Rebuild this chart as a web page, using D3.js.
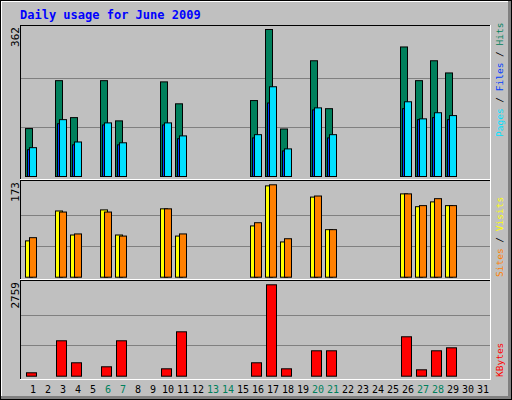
<!DOCTYPE html>
<html><head><meta charset="utf-8">
<script src="https://cdn.jsdelivr.net/npm/d3@7"></script>
<style>body{margin:0;background:#fff}svg{display:block}</style>
</head><body><div id="chart"></div>
<script>
var days = d3.range(1, 32);
var weekend = [6, 7, 13, 14, 20, 21, 27, 28];
// day -> value, days with no traffic are 0
var hits   = {1:118,3:236,4:145,6:236,7:137,10:233,11:179,16:187,17:362,18:117,20:285,21:167,26:319,27:236,28:285,29:255};
var files  = {1:71,3:140,4:85,6:132,7:83,10:132,11:100,16:103,17:221,18:68,20:169,21:103,26:184,27:142,28:157,29:150};
var pages  = {1:66,3:130,4:78,6:127,7:78,10:127,11:93,16:95,17:181,18:63,20:164,21:95,26:167,27:140,28:145,29:140};
var visits = {1:68,3:124,4:79,6:126,7:79,10:128,11:77,16:96,17:171,18:66,20:150,21:89,26:156,27:132,28:141,29:134};
var sites  = {1:74,3:122,4:81,6:122,7:77,10:128,11:81,16:102,17:173,18:72,20:152,21:89,26:156,27:134,28:147,29:134};
var kbytes = {1:103,3:1069,4:405,6:284,7:1069,10:223,11:1340,16:405,17:2759,18:223,20:767,21:767,26:1190,27:193,28:767,29:857};

var W = 512, H = 400;
var svg = d3.select("#chart").append("svg").attr("width", W).attr("height", H);

// frame
svg.append("rect").attr("x", 0).attr("y", 0).attr("width", W).attr("height", H).attr("fill", "#000");
svg.append("rect").attr("x", 1).attr("y", 1).attr("width", W - 2).attr("height", H - 2).attr("fill", "#808080");
svg.append("rect").attr("x", 1).attr("y", 1).attr("width", W - 5).attr("height", H - 5).attr("fill", "#fff");
svg.append("rect").attr("x", 2).attr("y", 2).attr("width", W - 6).attr("height", H - 6).attr("fill", "#c0c0c0");

svg.append("text").attr("x", 20).attr("y", 19)
    .attr("font-family", "DejaVu Sans Mono").attr("font-weight", "bold").attr("font-size", 12)
    .attr("fill", "#0000ff").text("Daily usage for June 2009");

var x = d3.scaleLinear().domain([1, 32]).range([25, 25 + 31 * 15]);

var panels = [
    {top: 25, bottom: 179, base: 176, peak: 29, max: 362, labelEnd: 137,
     label: [["Pages", "#00e0ff"], [" / ", "#000"], ["Files", "#0040ff"], [" / ", "#000"], ["Hits", "#00805c"]],
     series: [
        {data: hits, color: "#00805c", dx: 0, w: 7},
        {data: pages, color: "#0040ff", dx: 2, w: 3},
        {data: files, color: "#00e0ff", dx: 4, w: 7}]},
    {top: 180, bottom: 279, base: 276.7, peak: 184.3, max: 173, labelEnd: 277,
     label: [["Sites", "#ff8000"], [" / ", "#000"], ["Visits", "#ffff00"]],
     series: [
        {data: visits, color: "#ffff00", dx: 0, w: 7},
        {data: sites, color: "#ff8000", dx: 4, w: 7}]},
    {top: 280, bottom: 379, base: 375.7, peak: 284.3, max: 2759, labelEnd: 377,
     label: [["KBytes", "#ff0000"]],
     series: [
        {data: kbytes, color: "#ff0000", dx: 1, w: 10}]}
];

panels.forEach(function(p) {
    var y = d3.scaleLinear().domain([0, p.max]).range([p.base, p.peak]);
    // border: black top/left, white bottom/right
    svg.append("line").attr("x1", 20.5).attr("x2", 491).attr("y1", p.top + 0.5).attr("y2", p.top + 0.5).attr("stroke", "#000");
    svg.append("line").attr("x1", 20.5).attr("x2", 20.5).attr("y1", p.top).attr("y2", p.bottom + 1).attr("stroke", "#000");
    svg.append("line").attr("x1", 20).attr("x2", 491).attr("y1", p.bottom + 0.5).attr("y2", p.bottom + 0.5).attr("stroke", "#fff");
    svg.append("line").attr("x1", 490.5).attr("x2", 490.5).attr("y1", p.top).attr("y2", p.bottom + 1).attr("stroke", "#fff");

    [1 / 3, 2 / 3].forEach(function(f) {
        var gy = Math.round(y(p.max * f)) + 0.5;
        svg.append("line").attr("x1", 21).attr("x2", 490).attr("y1", gy).attr("y2", gy).attr("stroke", "#808080");
    });

    svg.append("text")
        .attr("transform", "translate(19," + (p.top + 2) + ") rotate(-90)")
        .attr("text-anchor", "end").attr("font-family", "DejaVu Sans Mono").attr("font-size", 11)
        .attr("fill", "#000").text(p.max);

    var lab = svg.append("text")
        .attr("transform", "translate(503," + p.labelEnd + ") rotate(-90)")
        .attr("font-family", "DejaVu Sans Mono").attr("font-size", 9.5);
    p.label.forEach(function(s) { lab.append("tspan").attr("fill", s[1]).text(s[0]); });

    p.series.forEach(function(s) {
        svg.append("g").selectAll("rect")
            .data(days.filter(function(d) { return s.data[d]; }))
            .enter().append("rect")
            .attr("x", function(d) { return x(d) + s.dx + 0.5; })
            .attr("y", function(d) { return y(s.data[d]) + 0.5; })
            .attr("width", s.w)
            .attr("height", function(d) { return p.base - y(s.data[d]); })
            .attr("fill", s.color)
            .attr("stroke", "#000");
    });
});

svg.append("g").selectAll("text")
    .data(days).enter().append("text")
    .attr("x", function(d) { return x(d) + 8; })
    .attr("y", 393)
    .attr("text-anchor", "middle")
    .attr("font-family", "DejaVu Sans Mono").attr("font-size", 10)
    .attr("fill", function(d) { return weekend.indexOf(d) >= 0 ? "#00805c" : "#000"; })
    .text(function(d) { return d; });
</script>
</body></html>
